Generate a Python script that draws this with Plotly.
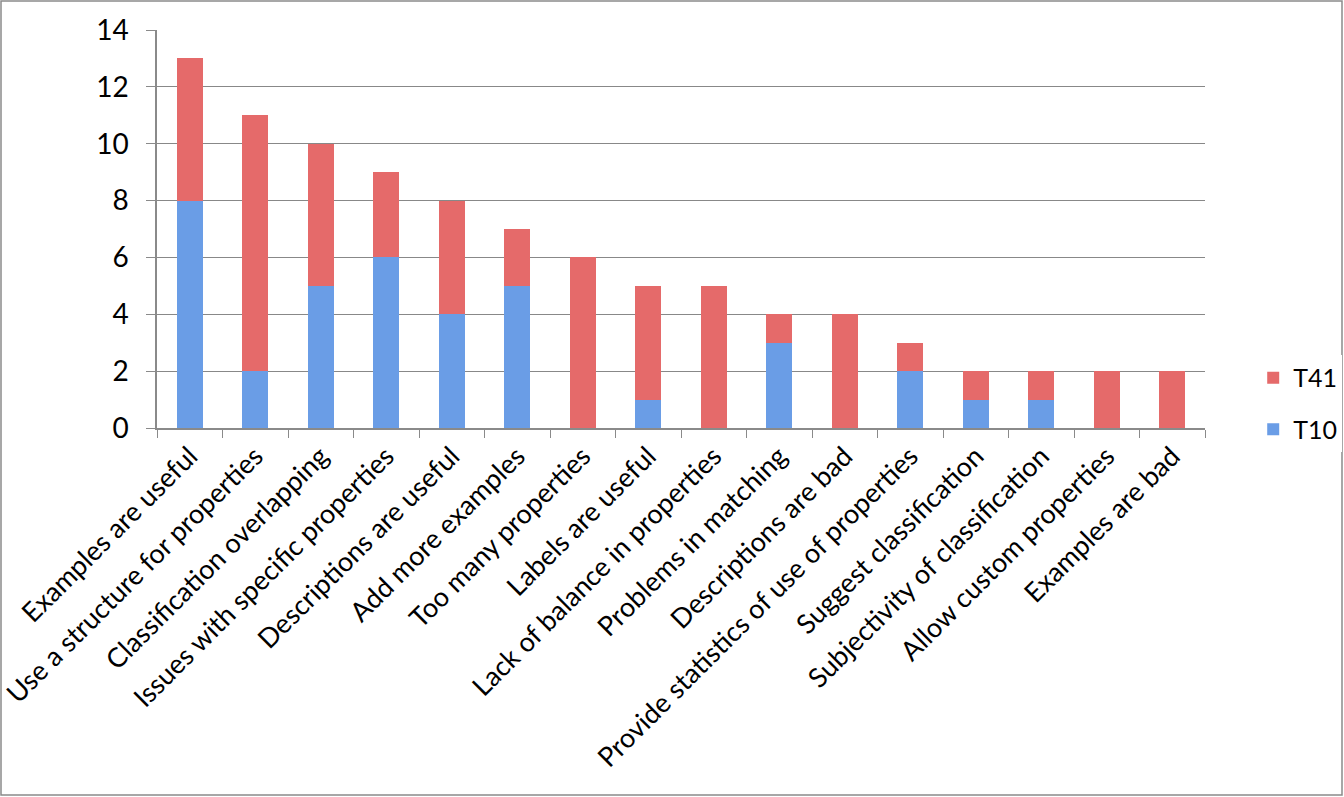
import plotly.graph_objects as go

categories = [
    "Examples are useful", "Use a structure for properties", "Classification overlapping",
    "Issues with specific properties", "Descriptions are useful", "Add more examples",
    "Too many properties", "Labels are useful", "Lack of balance in properties",
    "Problems in matching", "Descriptions are bad", "Provide statistics of use of properties",
    "Suggest classification", "Subjectivity of classification", "Allow custom properties",
    "Examples are bad",
]
t10 = [8, 2, 5, 6, 4, 5, 0, 1, 0, 3, 0, 2, 1, 1, 0, 0]
t41 = [5, 9, 5, 3, 4, 2, 6, 4, 5, 1, 4, 1, 1, 1, 2, 2]
y_ticks = [0, 2, 4, 6, 8, 10, 12, 14]

FONT = "Lato"
W, H = 1344, 797
L, R, T, B = 157, 139, 30, 369
pw, ph = W - L - R, H - T - B

fig = go.Figure()
fig.add_trace(go.Bar(x=categories, y=t10, name="T10", legendgroup="a", legendrank=2,
                     marker=dict(color="#6A9DE6", line=dict(width=0))))
fig.add_trace(go.Bar(x=categories, y=t41, name="T41", legendgroup="b", legendrank=1,
                     marker=dict(color="#E56A6A", line=dict(width=0))))

fig.update_layout(
    barmode="stack",
    bargap=0.6,
    width=W, height=H,
    margin=dict(l=L, r=R, t=T, b=B, autoexpand=False),
    paper_bgcolor="white", plot_bgcolor="white",
    font=dict(family=FONT, size=22, color="black"),
    showlegend=True,
    legend=dict(x=1.046, y=-0.06, xanchor="left", yanchor="bottom",
                font=dict(size=25, family=FONT), traceorder="grouped",
                itemsizing="constant", tracegroupgap=16, itemwidth=30),
    xaxis=dict(tickangle=-45, showline=True, linecolor="#8a8a8a", linewidth=1.5,
               ticks="outside", ticklen=8, tickcolor="#8a8a8a", tickson="boundaries",
               showgrid=False, tickfont=dict(size=27, family=FONT)),
    yaxis=dict(range=[0, 14], tickvals=y_ticks, showline=True, linecolor="#8a8a8a",
               linewidth=1.5, ticks="outside", ticklen=9, tickcolor="#8a8a8a",
               showgrid=True, gridcolor="#888888", gridwidth=1.3, zeroline=False,
               ticklabelstandoff=12,
               tickfont=dict(size=28, family=FONT)),
)
fig.add_shape(type="rect", xref="paper", yref="paper",
              x0=(1 - L) / pw, x1=(W - 2 - L) / pw,
              y0=-(H - 2 - T - ph) / ph, y1=(H - B - 1) / ph,
              line=dict(color="#8a8a8a", width=1.5), layer="below")

fig.write_html("out.html", config={"displayModeBar": False},
               post_script="document.body.style.margin='0px';")
